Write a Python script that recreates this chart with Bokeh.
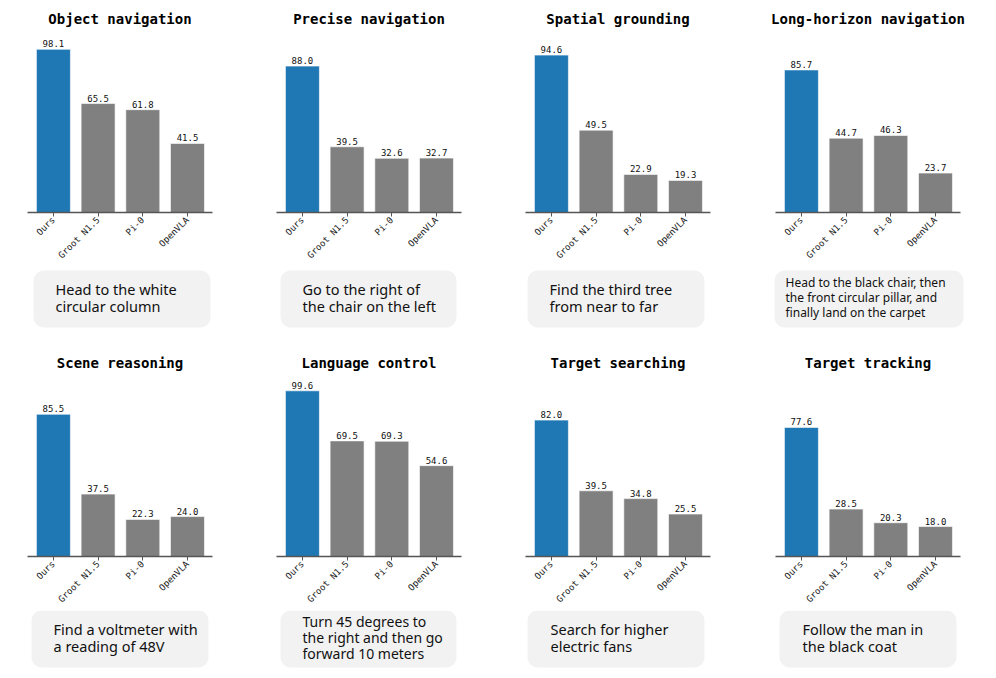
import math
from bokeh.plotting import figure
from bokeh.layouts import column, row
from bokeh.models import Range1d, FixedTicker
from bokeh.core.properties import value
from bokeh.embed import file_html
from bokeh.resources import INLINE

models = ["Ours", "Groot N1.5", "Pi-0", "OpenVLA"]

titles = ["Object navigation", "Precise navigation", "Spatial grounding",
          "Long-horizon navigation", "Scene reasoning", "Language control",
          "Target searching", "Target tracking"]

object_navigation = [98.1, 65.5, 61.8, 41.5]
precise_navigation = [88.0, 39.5, 32.6, 32.7]
spatial_grounding = [94.6, 49.5, 22.9, 19.3]
long_horizon_navigation = [85.7, 44.7, 46.3, 23.7]
scene_reasoning = [85.5, 37.5, 22.3, 24.0]
language_control = [99.6, 69.5, 69.3, 54.6]
target_searching = [82.0, 39.5, 34.8, 25.5]
target_tracking = [77.6, 28.5, 20.3, 18.0]

series = [object_navigation, precise_navigation, spatial_grounding,
          long_horizon_navigation, scene_reasoning, language_control,
          target_searching, target_tracking]

instructions = [
    "Head to the white\ncircular column",
    "Go to the right of\nthe chair on the left",
    "Find the third tree\nfrom near to far",
    "Head to the black chair, then\nthe front circular pillar, and\nfinally land on the carpet",
    "Find a voltmeter with\na reading of 48V",
    "Turn 45 degrees to\nthe right and then go\nforward 10 meters",
    "Search for higher\nelectric fans",
    "Follow the man in\nthe black coat",
]

# layout / style
panel_widths = [249, 249, 250, 248]
FRAME_LEFT = 27
box_fig_heights = [78, 62]
box_tops = [4, 0]
box_lefts = [33, 31, 29, 26, 31, 31, 29, 31]
box_widths = [177, 176, 177, 189, 177, 176, 177, 177]
text_pads = [22, 22, 22, 11, 22, 22, 23, 23]
text_sizes = [14.5, 14.5, 14.5, 12, 14.5, 14, 14.5, 14.5]
line_steps = [17, 17, 17, 15, 17, 16, 17, 17]
BOX_H = 57
BLUE = "#1f77b4"
GRAY = "#808080"
MONO = "DejaVu Sans Mono"

xs = list(range(len(models)))


def bar_fig(i, c):
    pw = panel_widths[c]
    vals = series[i]
    colors = [BLUE] + [GRAY] * (len(vals) - 1)
    p = figure(frame_width=185, frame_height=183,
               min_border_left=FRAME_LEFT, min_border_right=pw - 185 - FRAME_LEFT,
               min_border_top=29, min_border_bottom=54,
               x_range=Range1d(-0.58, 3.56), y_range=Range1d(0, 110),
               output_backend="svg", toolbar_location=None,
               outline_line_color=None, background_fill_color="white",
               border_fill_color="white")
    p.title.text = titles[i]
    p.title.align = "center"
    p.title.text_font = MONO
    p.title.text_font_size = "14px"
    p.title.text_font_style = "bold"
    p.title.text_color = "black"
    p.title.standoff = 6
    p.grid.visible = False
    p.yaxis.visible = False
    ax = p.xaxis[0]
    ax.ticker = FixedTicker(ticks=xs)
    ax.major_label_overrides = {x: m for x, m in zip(xs, models)}
    ax.major_label_orientation = math.pi / 4
    ax.major_label_text_font = MONO
    ax.major_label_text_font_size = "9px"
    ax.major_label_text_color = "#222222"
    ax.major_label_standoff = 2
    ax.axis_line_color = "#555555"
    ax.axis_line_width = 1.6
    ax.major_tick_line_color = "#555555"
    ax.major_tick_out = 4
    ax.major_tick_in = 0
    ax.minor_tick_line_color = None
    p.vbar(x=xs, top=vals, width=0.76, bottom=0, fill_color=colors,
           line_color="white", line_alpha=0.6, line_width=1)
    p.text(x=xs, y=vals, text=[f"{v:.1f}" for v in vals],
           text_align="center", text_baseline="bottom", y_offset=-2,
           text_font=value(MONO), text_font_size="9px", text_color="#111111")
    return p


def box_fig(i, c, bh, top):
    pw = panel_widths[c]
    b = figure(width=pw, height=bh, x_range=Range1d(0, pw),
               y_range=Range1d(0, bh), x_axis_type=None, y_axis_type=None,
               output_backend="svg", toolbar_location=None, min_border=0,
               outline_line_color=None, background_fill_color="white",
               border_fill_color="white")
    b.grid.visible = False
    left = box_lefts[i]
    b.quad(left=[left], right=[left + box_widths[i]], top=[bh - top],
           bottom=[bh - top - BOX_H], fill_color="#f2f2f2", line_color=None,
           border_radius=10)
    lines = instructions[i].split("\n")
    step = line_steps[i]
    mid = bh - top - BOX_H / 2
    n = len(lines)
    ys = [mid - (k - (n - 1) / 2) * step for k in range(n)]
    b.text(x=[left + text_pads[i]] * n, y=ys, text=lines,
           text_align="left", text_baseline="middle", y_offset=-1.5,
           text_font=value("Noto Sans"), text_font_size=f"{text_sizes[i]}px",
           text_color="#111111")
    return b


blocks = []
for r in range(2):
    bars = [bar_fig(r * 4 + c, c) for c in range(4)]
    boxes = [box_fig(r * 4 + c, c, box_fig_heights[r], box_tops[r]) for c in range(4)]
    blocks.append(row(*bars, spacing=0))
    blocks.append(row(*boxes, spacing=0))

layout = column(*blocks, spacing=0)

open("out.html", "w").write(file_html(layout, INLINE))
